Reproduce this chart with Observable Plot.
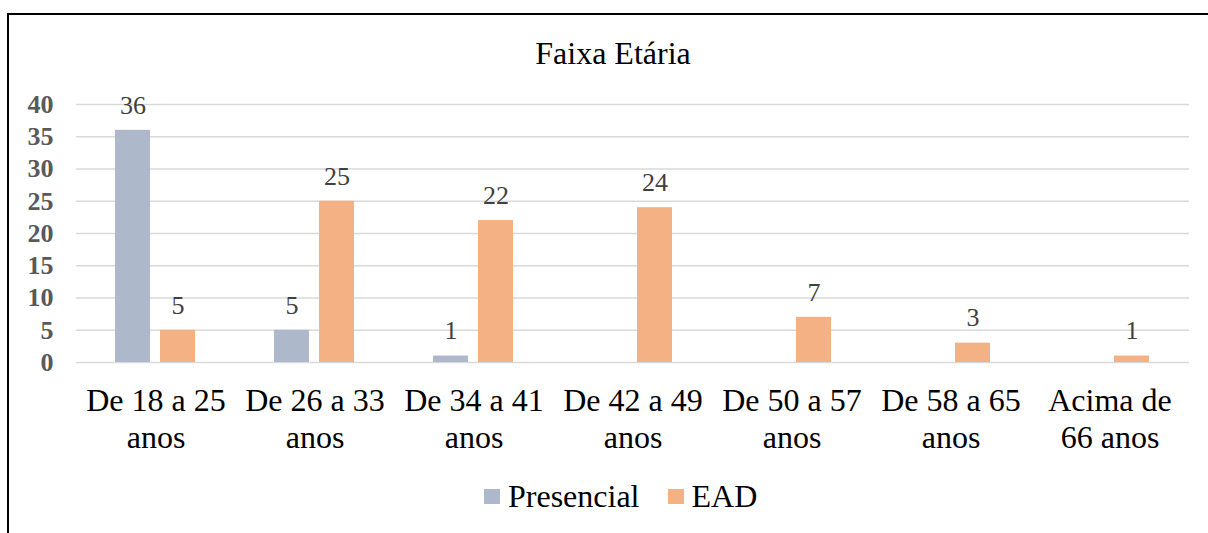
<!DOCTYPE html>
<html>
<head>
<meta charset="utf-8">
<script src="https://cdn.jsdelivr.net/npm/d3@7"></script>
<script src="https://cdn.jsdelivr.net/npm/@observablehq/plot@0.6"></script>
<style>
  html, body { margin: 0; padding: 0; background: #fff; }
  body { width: 1208px; height: 533px; position: relative; overflow: hidden; font-family: "Liberation Serif", Tinos, "Times New Roman", Times, "DejaVu Serif", serif; }
  #frame { position: absolute; left: 7px; top: 13px; width: 1300px; height: 600px; border: 2px solid #000; box-sizing: border-box; }
  #title { position: absolute; left: 0; width: 1226px; top: 37px; text-align: center; font-size: 32px; line-height: 32px; color: #000; }
  #chart { position: absolute; left: 0; top: 80px; }
  #legend { position: absolute; left: 484px; top: 476px; height: 40px; display: flex; align-items: center; font-size: 32px; color: #000; }
  .sw { width: 16px; height: 15px; margin-right: 8px; }
  .item { display: flex; align-items: center; }
  #chart svg, #chart svg text { font-family: "Liberation Serif", Tinos, "Times New Roman", Times, "DejaVu Serif", serif !important; }
</style>
</head>
<body>
<div id="frame"></div>
<div id="title">Faixa Etária</div>
<div id="chart"></div>
<div id="legend"></div>
<script>
const categories = ["De 18 a 25\nanos", "De 26 a 33\nanos", "De 34 a 41\nanos", "De 42 a 49\nanos", "De 50 a 57\nanos", "De 58 a 65\nanos", "Acima de\n66 anos"];
const seriesNames = ["Presencial", "EAD"];
const presencial = [36, 5, 1, 0, 0, 0, 0];
const ead = [5, 25, 22, 24, 7, 3, 1];
const colors = ["#adb9ca", "#f4b183"];
const yTicks = [0, 5, 10, 15, 20, 25, 30, 35, 40];

const data = [];
categories.forEach((c, i) => {
  data.push({cat: c, series: "Presencial", value: presencial[i]});
  data.push({cat: c, series: "EAD", value: ead[i]});
});
const labeled = data.filter(d => d.value > 0);

const font = '"Liberation Serif", Tinos, "Times New Roman", Times, "DejaVu Serif", serif';

const chart = Plot.plot({
  width: 1208,
  height: 390,
  marginTop: 24,
  marginBottom: 108,
  marginLeft: 75,
  marginRight: 18,
  style: {fontFamily: font, background: "transparent", overflow: "visible"},
  fx: {domain: categories, padding: 0, label: null},
  x: {domain: seriesNames, paddingInner: 0.22, paddingOuter: 0.86, axis: null},
  y: {domain: [0, 40], label: null},
  color: {domain: seriesNames, range: colors},
  marks: [
    Plot.gridY(yTicks, {stroke: "#d9d9d9", strokeWidth: 1.5, strokeOpacity: 1}),
    Plot.axisY(yTicks, {tickSize: 0, tickPadding: 23, fontSize: 26, fontWeight: "bold", fill: "#595959", label: null}),
    Plot.axisFx({anchor: "bottom", tickSize: 0, tickPadding: 22, fontSize: 32, lineHeight: 1.16, fill: "#000", label: null}),
    Plot.barY(data, {fx: "cat", x: "series", y: "value", fill: "series"}),
    Plot.text(labeled, {fx: "cat", x: "series", y: "value", text: d => String(d.value), dy: -25, fontSize: 26, fill: "#404040"})
  ]
});
document.getElementById("chart").appendChild(chart);

const legend = document.getElementById("legend");
seriesNames.forEach((s, i) => {
  const item = document.createElement("div");
  item.className = "item";
  if (i > 0) item.style.marginLeft = "28px";
  const sw = document.createElement("div");
  sw.className = "sw";
  sw.style.background = colors[i];
  const t = document.createElement("span");
  t.textContent = s;
  item.appendChild(sw);
  item.appendChild(t);
  legend.appendChild(item);
});
</script>
</body>
</html>
